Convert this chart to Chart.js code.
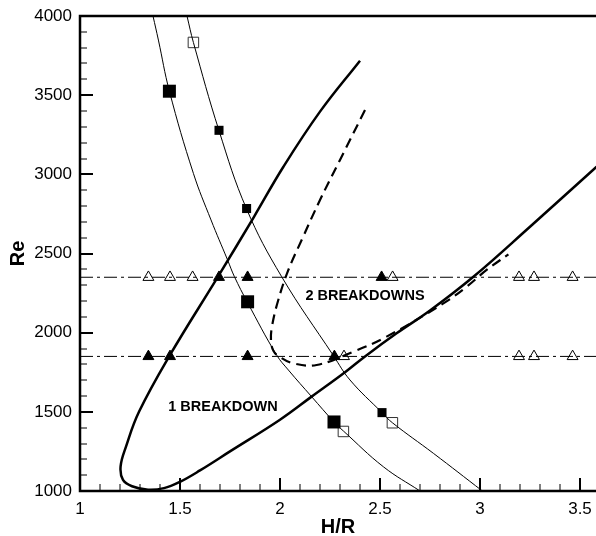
<!DOCTYPE html>
<html><head><meta charset="utf-8">
<script src="https://cdn.jsdelivr.net/npm/chart.js@4.4.0/dist/chart.umd.min.js"></script>
<style>html,body{margin:0;padding:0;background:#fff;overflow:hidden}#wrap{width:596px;height:536px;position:relative}</style>
</head><body><div id="wrap"><canvas id="c"></canvas></div>
<script>
// ---- tick labels ----
const xTicks = [1, 1.5, 2, 2.5, 3, 3.5];
const yTicks = [1000, 1500, 2000, 2500, 3000, 3500, 4000];

// ---- curves: [H/R, Re] ----
const thinCurveA = [[1.365,4000],[1.392,3848],[1.447,3525],[1.567,3006],[1.655,2712],[1.737,2462],[1.772,2354],[1.837,2192],[1.983,1859],[2.042,1764],[2.158,1596],[2.27,1436],[2.317,1379],[2.517,1153],[2.70,1000]];
const thinCurveB = [[1.535,4000],[1.567,3833],[1.695,3276],[1.833,2781],[2.008,2354],[2.267,1855],[2.35,1701],[2.51,1495],[2.562,1431],[2.767,1238],[3.012,1000]];
const thickCurve = [[2.40,3718],[2.2,3396],[2.017,3048],[1.87,2732],[1.69,2354],[1.45,1859],[1.295,1500],[1.23,1280],[1.203,1155],[1.215,1070],[1.26,1030],[1.34,1008],[1.42,1018],[1.5,1058],[1.6,1130],[1.75,1250],[2.0,1450],[2.158,1596],[2.325,1750],[2.425,1850],[2.583,1996],[2.75,2140],[2.967,2353],[3.25,2669],[3.583,3048]];
const dashedCurve = [[2.425,3406],[2.3,3091],[2.2,2838],[2.11,2590],[2.04,2390],[1.99,2200],[1.96,2040],[1.955,1950],[1.967,1885],[1.995,1850],[2.067,1806],[2.183,1796],[2.367,1880],[2.533,1975],[2.817,2185],[2.933,2290],[3.033,2396],[3.142,2495]];

// ---- constant-Re reference lines ----
const reLevels = [1850, 2350];
const xRange = [1, 3.58];

// ---- markers ----
const bigFilledSquares = [[1.447,3525],[1.838,2195],[2.27,1436]];
const smallFilledSquares = [[1.695,3278],[1.833,2784],[2.51,1495]];
const openSquares = [[1.567,3833],[2.317,1376],[2.562,1431]];
const filledTriUpper = [1.695, 1.838, 2.508];
const openTriUpper = [1.342, 1.45, 1.563, 2.563, 3.195, 3.27, 3.463];
const filledTriLower = [1.342, 1.45, 1.838, 2.272];
const openTriLower = [2.32, 3.195, 3.27, 3.463];

// ---- region labels ----
const regionLabels = [["2 BREAKDOWNS", 2.425, 2232], ["1 BREAKDOWN", 1.715, 1532]];

const FONT = "'Liberation Sans', Arial, Helvetica, sans-serif";
const pts = a => a.map(p => ({x:p[0], y:p[1]}));
const atRe = (xs, re) => xs.map(v => ({x:v, y:re}));

const curve = (data, w, dash) => ({type:'scatter', data:pts(data), showLine:true, borderColor:'#000', borderWidth:w, borderDash:dash||[], pointRadius:0, tension:0.4, fill:false});
const markers = (data, style, r, bg, bc, bw) => ({type:'scatter', data, showLine:false, pointStyle:style, pointRadius:r, pointHoverRadius:r, backgroundColor:bg, borderColor:bc, borderWidth:bw});

const datasets = [
  ...reLevels.map(re => ({type:'scatter', data:[{x:xRange[0],y:re},{x:xRange[1],y:re}], showLine:true, borderColor:'#000', borderWidth:1, borderDash:[13,4,3,4], pointRadius:0})),
  curve(thinCurveA, 1),
  curve(thinCurveB, 1),
  curve(thickCurve, 2.5),
  curve(dashedCurve, 2.2, [10,6]),
  markers(pts(bigFilledSquares), 'rect', 9.2, '#000', '#000', 0),
  markers(pts(smallFilledSquares), 'rect', 6.4, '#000', '#000', 0),
  markers(pts(openSquares), 'rect', 7.4, '#fff', '#333', 1),
  markers(atRe(filledTriUpper, reLevels[1]).concat(atRe(filledTriLower, reLevels[0])), 'triangle', 6.3, '#000', '#000', 1),
  markers(atRe(openTriUpper, reLevels[1]).concat(atRe(openTriLower, reLevels[0])), 'triangle', 6.3, '#fff', '#000', 1)
];

const framePlugin = {
  id:'frame',
  afterDatasetsDraw(chart){
    const {ctx, chartArea:a, scales:{x, y}} = chart;
    ctx.save();
    ctx.strokeStyle = '#000';
    for (let i = 11; i <= 35; i++){
      const v = i/10;
      const major = i % 5 === 0;
      const px = Math.round(x.getPixelForValue(v));
      ctx.lineWidth = major ? 2 : 1;
      ctx.beginPath(); ctx.moveTo(px, a.bottom); ctx.lineTo(px, a.bottom - (major ? 13 : 7)); ctx.stroke();
    }
    for (let i = 11; i <= 39; i++){
      const v = i*100;
      const major = i % 5 === 0;
      const py = Math.round(y.getPixelForValue(v));
      ctx.lineWidth = major ? 2 : 1;
      ctx.beginPath(); ctx.moveTo(a.left, py); ctx.lineTo(a.left + (major ? 13 : 7), py); ctx.stroke();
    }
    ctx.lineWidth = 2.5;
    ctx.beginPath();
    ctx.moveTo(a.right, a.top); ctx.lineTo(a.left, a.top); ctx.lineTo(a.left, a.bottom); ctx.lineTo(a.right, a.bottom);
    ctx.stroke();
    ctx.fillStyle = '#000';
    ctx.font = 'bold 14.5px ' + FONT;
    ctx.textAlign = 'center'; ctx.textBaseline = 'middle';
    regionLabels.forEach(l => ctx.fillText(l[0], x.getPixelForValue(l[1]), y.getPixelForValue(l[2])));
    ctx.restore();
  }
};

new Chart(document.getElementById('c'), {
  type:'scatter',
  data:{datasets},
  plugins:[framePlugin],
  options:{
    responsive:true, maintainAspectRatio:false, animation:false,
    layout:{autoPadding:false, padding:{top:16, right:0, left:0, bottom:0}},
    plugins:{legend:{display:false}, tooltip:{enabled:false}},
    events:[],
    scales:{
      x:{type:'linear', min:xRange[0], max:xRange[1],
        border:{display:false}, grid:{display:false, drawTicks:false},
        afterBuildTicks:s => { s.ticks = xTicks.map(v => ({value:v})); },
        afterFit:s => { s.height = 45; s.paddingLeft = 0; s.paddingRight = 0; },
        ticks:{padding:8, color:'#000', font:{family:FONT, size:17}, callback:v => String(v), maxRotation:0, autoSkip:false},
        title:{display:true, text:'H/R', color:'#000', font:{family:FONT, size:20, weight:'bold', lineHeight:1}, padding:{top:0, bottom:-1}}
      },
      y:{type:'linear', min:1000, max:4000,
        border:{display:false}, grid:{display:false, drawTicks:false},
        afterBuildTicks:s => { s.ticks = yTicks.map(v => ({value:v})); },
        afterFit:s => { s.width = 80; s.paddingTop = 0; s.paddingBottom = 0; },
        ticks:{padding:8, color:'#000', font:{family:FONT, size:17}, callback:v => String(v), autoSkip:false},
        title:{display:true, text:'Re', color:'#000', font:{family:FONT, size:20, weight:'bold', lineHeight:1}, padding:{top:8, bottom:0}}
      }
    }
  }
});
</script></body></html>
